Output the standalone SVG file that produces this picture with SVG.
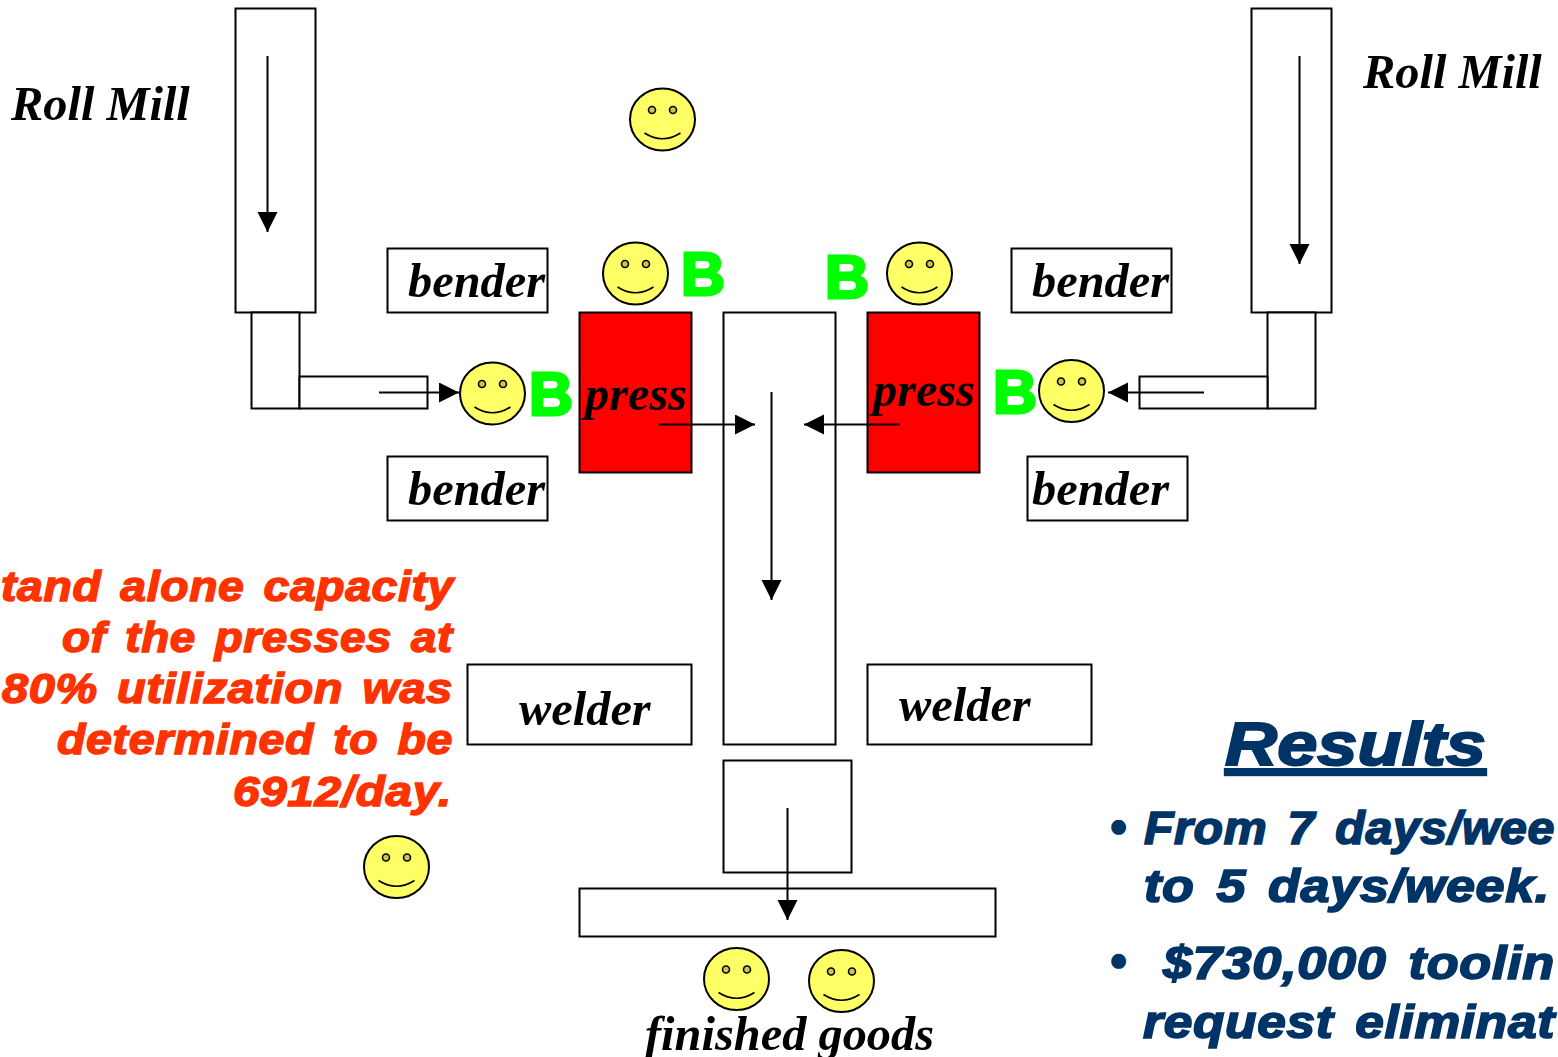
<svg xmlns="http://www.w3.org/2000/svg" width="1558" height="1057" viewBox="0 0 1558 1057">
<style>
.box{fill:#fff;stroke:#000;stroke-width:2}
.ln{fill:none;stroke:#000;stroke-width:2}
.sm ellipse{fill:#ffff66;stroke:#000;stroke-width:2}
.sm circle{fill:#c8c850;stroke:#000;stroke-width:1.6}
.sm path{fill:none;stroke:#000;stroke-width:1.6}
.t{font-family:"Liberation Serif",serif;font-style:italic;font-weight:bold;font-size:48.4px;fill:#000}
.b{font-family:"Liberation Sans",sans-serif;font-weight:bold;font-size:61px;fill:#00ff00;stroke:#00ff00;stroke-width:3}
.r{font-family:"Liberation Sans",sans-serif;font-style:italic;font-weight:bold;font-size:42px;fill:#ff3300;stroke:#ff3300;stroke-width:1.5;word-spacing:5px;letter-spacing:.6px}
.n{font-family:"Liberation Sans",sans-serif;font-style:italic;font-weight:bold;font-size:46px;fill:#003366;stroke:#003366;stroke-width:1.7;word-spacing:6px;letter-spacing:.6px}
</style>
<defs>
<marker id="a" markerUnits="userSpaceOnUse" markerWidth="22" markerHeight="22" refX="20" refY="10" orient="auto"><path d="M0 0L20 10L0 20Z" fill="#000"/></marker>
<g id="s" class="sm"><ellipse cx="0" cy="0" rx="32.500" ry="31"/><circle cx="-10.500" cy="-9.500" r="3.500"/><circle cx="10.500" cy="-9.500" r="3.500"/><path d="M-18 13.500Q0 25 18 13.500"/></g>
</defs>
<rect width="1558" height="1057" fill="#fff"/>
<g id="rollmill-left"><rect class="box" x="235.500" y="8.500" width="80" height="304"/><rect class="box" x="251.500" y="312.500" width="48" height="96"/><rect class="box" x="299.500" y="376.500" width="128" height="32"/><text class="t" x="11" y="120">Roll Mill</text></g>
<g id="rollmill-right"><rect class="box" x="1251.500" y="8.500" width="80" height="304"/><rect class="box" x="1267.500" y="312.500" width="48" height="96"/><rect class="box" x="1139.500" y="376.500" width="128" height="32"/><text class="t" x="1363" y="88">Roll Mill</text></g>
<g id="bender-1"><rect class="box" x="387.500" y="248.500" width="160" height="64"/><text class="t" x="408" y="296.500">bender</text></g>
<g id="bender-2"><rect class="box" x="387.500" y="456.500" width="160" height="64"/><text class="t" x="408" y="504.500">bender</text></g>
<g id="bender-3"><rect class="box" x="1011.500" y="248.500" width="160" height="64"/><text class="t" x="1032" y="296.500">bender</text></g>
<g id="bender-4"><rect class="box" x="1027.500" y="456.500" width="160" height="64"/><text class="t" x="1032" y="504.500">bender</text></g>
<g id="press-left"><rect x="579.500" y="312.500" width="112" height="160" fill="#ff0000" stroke="#000" stroke-width="2"/><text class="t" x="585" y="410">press</text></g>
<g id="press-right"><rect x="867.500" y="312.500" width="112" height="160" fill="#ff0000" stroke="#000" stroke-width="2"/><text class="t" x="873" y="406">press</text></g>
<g id="line-main"><rect class="box" x="723.500" y="312.500" width="112" height="432"/></g>
<g id="welder-left"><rect class="box" x="467.500" y="664.500" width="224" height="80"/><text class="t" x="519" y="724.500">welder</text></g>
<g id="welder-right"><rect class="box" x="867.500" y="664.500" width="224" height="80"/><text class="t" x="899" y="720.500">welder</text></g>
<g id="station"><rect class="box" x="723.500" y="760.500" width="128" height="112"/></g>
<g id="finished"><rect class="box" x="579.500" y="888.500" width="416" height="48"/><text class="t" x="645" y="1049.500">finished goods</text></g>
<g id="connectors">
<path class="ln" marker-end="url(#a)" d="M267.500 56V232"/>
<path class="ln" marker-end="url(#a)" d="M1299.500 56V264"/>
<path class="ln" marker-end="url(#a)" d="M379 392.500H459"/>
<path class="ln" marker-end="url(#a)" d="M1204 392.500H1108"/>
<path class="ln" marker-end="url(#a)" d="M659 424.500H755"/>
<path class="ln" marker-end="url(#a)" d="M900 424.500H804"/>
<path class="ln" marker-end="url(#a)" d="M771.500 392V600"/>
<path class="ln" marker-end="url(#a)" d="M787.500 808V920"/>
</g>
<g id="smiles">
<use href="#s" x="662.500" y="119.500"/><use href="#s" x="635.500" y="273.500"/><use href="#s" x="919.500" y="273.500"/><use href="#s" x="492.500" y="393.500"/><use href="#s" x="1071.500" y="391"/><use href="#s" x="396.500" y="867"/><use href="#s" x="736.500" y="979"/><use href="#s" x="841.500" y="981"/>
</g>
<g id="buffers"><text class="b" x="681" y="294.500">B</text><text class="b" x="825" y="298">B</text><text class="b" x="529" y="414.500">B</text><text class="b" x="993" y="412.500">B</text></g>
<g id="note"><text class="r" x="1" y="600.500" textLength="453" lengthAdjust="spacingAndGlyphs">tand alone capacity</text><text class="r" x="62" y="651.500" textLength="391" lengthAdjust="spacingAndGlyphs">of the presses at</text><text class="r" x="2" y="702.500" textLength="451" lengthAdjust="spacingAndGlyphs">80% utilization was</text><text class="r" x="57" y="753.500" textLength="396" lengthAdjust="spacingAndGlyphs">determined to be</text><text class="r" x="233" y="805.500" textLength="219" lengthAdjust="spacingAndGlyphs">6912/day.</text></g>
<g id="results"><text x="1225" y="765" font-family="Liberation Sans, sans-serif" font-style="italic" font-weight="bold" font-size="62" fill="#003366" stroke="#003366" stroke-width="2" text-decoration="underline" textLength="261" lengthAdjust="spacingAndGlyphs">Results</text>
<text class="n" x="1110" y="843">•</text><text class="n" x="1144" y="843.500" textLength="411" lengthAdjust="spacingAndGlyphs">From 7 days/wee</text><text class="n" x="1144" y="901.500" textLength="406" lengthAdjust="spacingAndGlyphs">to 5 days/week.</text><text class="n" x="1110" y="977">•</text><text class="n" x="1163" y="978.500" textLength="392" lengthAdjust="spacingAndGlyphs">$730,000 toolin</text><text class="n" x="1143" y="1037.500" textLength="412" lengthAdjust="spacingAndGlyphs">request eliminat</text></g>
</svg>
